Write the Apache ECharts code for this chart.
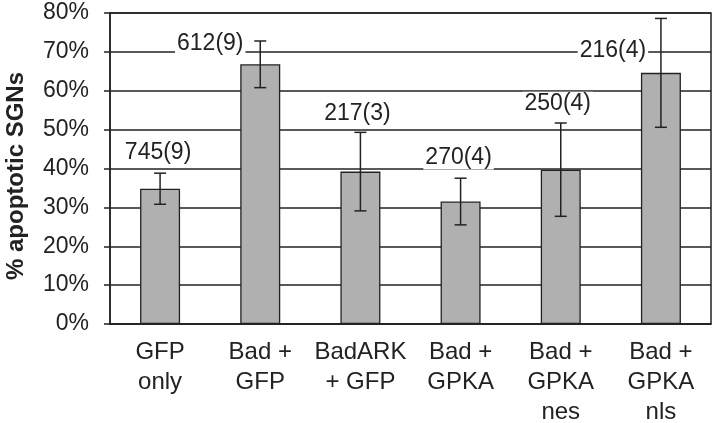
<!DOCTYPE html>
<html>
<head>
<meta charset="utf-8">
<script src="https://cdn.jsdelivr.net/npm/echarts@6/dist/echarts.min.js"></script>
<style>html,body{margin:0;padding:0;background:#fff;}#c{width:720px;height:423px;}</style>
</head>
<body>
<div id="c"></div>
<script>
var categories = ['GFP\nonly', 'Bad +\nGFP', 'BadARK\n+ GFP', 'Bad +\nGPKA', 'Bad +\nGPKA\nnes', 'Bad +\nGPKA\nnls'];
var values = [34.8, 66.8, 39.2, 31.5, 39.7, 64.6];
var errors = [4.0, 6.0, 10.1, 6.0, 12.0, 14.0];
var countLabels = ['745(9)', '612(9)', '217(3)', '270(4)', '250(4)', '216(4)'];
var labelLevels = [44.0, 72.2, 54.0, 42.7, 56.8, 70.4];
var labelShift = [-2, -50, -3, -2, -3, -48];
var yTitle = '% apoptotic SGNs';

var chart = echarts.init(document.getElementById('c'));
var FONT = '"Liberation Sans", Arial, sans-serif';
chart.setOption({
  animation: false,
  grid: {left: 110, right: 9, top: 13, bottom: 99, show: true, borderColor: '#222', borderWidth: 1.5,
    containLabel: false, outerBoundsMode: 'none'},
  graphic: [{
    type: 'text', x: 16, y: 176, rotation: Math.PI / 2,
    style: {text: yTitle, fontFamily: FONT, fontSize: 24, fontWeight: 'bold', fill: '#222',
      align: 'center', verticalAlign: 'middle'}
  }],
  xAxis: {
    type: 'category', data: categories,
    axisLine: {lineStyle: {color: '#222', width: 1.5}},
    axisTick: {show: false},
    axisLabel: {fontFamily: FONT, fontSize: 24, color: '#222', lineHeight: 30, margin: 13, interval: 0}
  },
  yAxis: {
    type: 'value', min: 0, max: 80, interval: 10,
    axisLine: {show: true, lineStyle: {color: '#222', width: 1.5}},
    axisTick: {show: true, length: 6, lineStyle: {color: '#222', width: 1.5}},
    axisLabel: {fontFamily: FONT, fontSize: 23, color: '#222', margin: 21, formatter: '{value}%'},
    splitLine: {lineStyle: {color: '#222', width: 1.5}}
  },
  series: [
    {
      type: 'bar', data: values, barWidth: 40, z: 2,
      itemStyle: {color: '#b0b0b0', borderColor: '#222', borderWidth: 1.3}
    },
    {
      type: 'custom', z: 5,
      data: values.map(function (v, i) { return [i, v - errors[i], v + errors[i]]; }),
      renderItem: function (params, api) {
        var lo = api.coord([api.value(0), api.value(1)]);
        var hi = api.coord([api.value(0), api.value(2)]);
        var w = 6;
        var st = {stroke: '#222', lineWidth: 1.5};
        return {type: 'group', children: [
          {type: 'line', shape: {x1: hi[0], y1: hi[1], x2: lo[0], y2: lo[1]}, style: st},
          {type: 'line', shape: {x1: hi[0] - w, y1: hi[1], x2: hi[0] + w, y2: hi[1]}, style: st},
          {type: 'line', shape: {x1: lo[0] - w, y1: lo[1], x2: lo[0] + w, y2: lo[1]}, style: st}
        ]};
      }
    },
    {
      type: 'custom', z: 6,
      data: labelLevels.map(function (v, i) { return [i, v]; }),
      renderItem: function (params, api) {
        var i = params.dataIndex;
        var p = api.coord([api.value(0), api.value(1)]);
        return {type: 'text', x: p[0] + labelShift[i], y: p[1], style: {
          text: countLabels[i], fontFamily: FONT, fontSize: 23, fill: '#222',
          align: 'center', verticalAlign: 'middle', backgroundColor: '#fff', padding: [0, 2]
        }};
      }
    }
  ]
});
</script>
</body>
</html>
